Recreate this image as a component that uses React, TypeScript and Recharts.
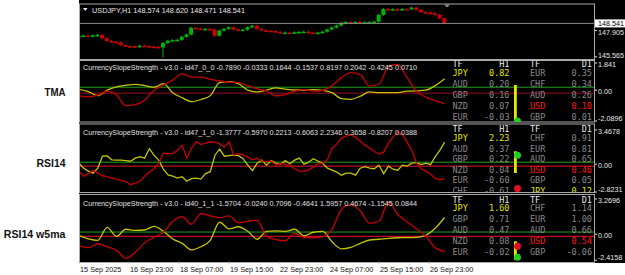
import React from 'react';
import { ComposedChart, LineChart, Line, Bar, XAxis, YAxis, ReferenceLine } from 'recharts';

const SANS = '"Liberation Sans", Arial, sans-serif';
const MONO = '"DejaVu Sans Mono", monospace';

// x is the H1 bar index, about 1.56 px per bar
const BAR_DOMAIN: [number, number] = [0, 329.6];

// USDJPY closes, one candle per 3 H1 bars
const priceCloses = [
  147.42, 147.45, 147.40, 147.48, 147.51, 147.22, 146.98, 146.90, 146.85, 146.60,
  146.52, 146.50, 146.46, 146.55, 146.52, 146.47, 146.45, 146.40, 146.80, 147.00,
  147.05, 147.08, 147.35, 147.55, 148.15, 148.08, 148.02, 148.05, 147.98, 147.45,
  147.90, 148.05, 148.20, 148.00, 147.95, 147.98, 148.20, 148.34, 148.05, 147.92,
  147.88, 147.85, 147.78, 147.70, 147.72, 147.68, 147.75, 147.78, 147.80, 147.72,
  147.66, 147.72, 147.80, 148.00, 148.18, 148.35, 148.60, 148.66, 148.62, 148.66,
  148.60, 148.64, 148.66, 148.70, 149.30, 149.82, 149.78, 149.80, 149.76, 149.82,
  149.80, 149.95, 149.75, 149.55, 149.50, 149.45, 149.30, 149.00, 148.54,
];
const priceFirstOpen = 147.38;
const priceWickLows: Record<number, number> = { 18: 145.58 };
const bidPrice = 148.541;
const priceTicks = [145.565, 147.905, 148.541];
const priceDomain: [number, number] = [145.37, 150.27];

// TMA pane, every 6 bars
const tmaJpy = [
  0.05, -0.10, -0.37, 0.00, 0.22, 0.33, 0.39, 0.31, 0.20, 0.44,
  -0.17, -0.51, -0.78, -0.64, -0.37, 0.51, 0.58, 0.44, 0.00, -0.12,
  0.00, 0.15, 0.07, 0.01, 0.00, 0.03, -0.01, -0.17, -0.58, -0.62,
  -0.41, -0.12, -0.17, -0.17, -0.17, -0.07, -0.05, 0.00, 0.31, 0.78,
];
const tmaUsd = [
  -0.39, -0.45, -0.34, -0.07, -0.31, -1.05, -0.98, -0.68, 0.00, 0.34,
  0.68, 1.12, 0.89, 0.88, 0.73, 0.62, 0.54, 0.51, 0.31, 0.10,
  -0.05, -0.39, -0.31, -0.07, 0.03, -0.07, -0.01, 0.31, 0.85, 1.19,
  1.05, 0.27, 0.40, 1.59, 1.75, 0.85, -0.07, -0.47, -0.71, -0.92,
];

// RSI14 pane, every 3 bars
const rsiJpy = [
  0.10, -0.41, -0.71, -0.91, -0.41, 0.81, 0.84, 0.44, 0.41, 0.41,
  0.36, 0.30, 0.61, 0.76, 0.61, 1.57, 0.91, 0.41, -0.51, -1.09,
  -1.22, -1.42, -1.27, -1.73, -1.47, -1.42, -1.52, -0.96, -0.76, 0.91,
  1.52, 0.81, 0.86, 0.91, 0.86, 0.56, -0.10, -0.66, 0.10, 0.41,
  -0.10, 0.36, 0.10, 0.00, 0.36, 0.05, 0.41, 0.61, 0.00, 0.20,
  0.56, 0.30, 0.10, -0.41, -0.61, -0.81, -1.12, -0.91, -0.91, -1.12,
  -0.41, -0.25, -0.41, -0.46, -0.10, -0.96, -0.20, -0.51, -0.61, -0.10,
  -0.20, 0.10, 0.15, -0.05, 0.10, -0.05, 0.78, 1.42, 2.23,
];
const rsiUsd = [
  -0.74, -1.22, -0.96, -0.61, -0.91, -1.17, -1.27, -1.42, -1.52, -1.65,
  -1.76, -2.08, -1.93, -1.73, -1.22, -0.81, -0.46, 0.05, 1.12, 1.07,
  1.07, 1.42, 1.93, 0.61, 1.62, 2.28, 1.98, 2.13, 2.26, 2.23,
  2.08, 1.73, 2.28, 0.91, 1.07, 0.96, 0.71, 0.44, 0.61, 0.30,
  0.25, 0.30, -0.05, 0.07, 0.00, -0.10, -0.46, -0.71, -0.71, -0.58,
  -0.30, 0.05, 0.10, 0.46, 1.62, 2.03, 2.64, 2.84, 2.97, 2.74,
  2.33, 1.93, 1.62, 1.29, 1.02, 1.22, 2.13, 2.74, 3.25, 3.05,
  2.23, 1.42, 0.10, -0.46, -0.71, -1.02, -1.42, -1.59, -1.47,
];

// RSI14 w5ma pane, every 6 bars
const w5Jpy = [
  -0.13, -0.43, -0.57, 0.64, -0.20, 0.46, 0.36, 0.39, 0.73, 0.27,
  -0.45, -0.85, -1.45, -1.17, -0.57, 1.11, 0.50, 0.69, 0.27, -0.47,
  0.27, 0.30, 0.27, 0.46, -0.15, 0.18, 0.27, -0.71, -1.36, -1.22,
  -0.85, -0.54, -0.47, -0.38, -0.33, -0.32, -0.29, -0.10, 0.55, 1.55,
];
const w5Usd = [
  -1.06, -1.25, -0.89, -1.17, -1.50, -2.24, -1.68, -0.80, -0.29, 0.18,
  1.20, 1.62, 0.92, 1.90, 1.71, 1.53, 1.71, 1.06, 1.20, 1.29,
  -0.20, -0.50, -0.61, 0.08, -0.29, -0.33, -0.24, 0.46, 2.32, 2.72,
  2.18, 1.01, 1.20, 2.99, 1.85, 1.13, 0.50, -0.20, -1.26, -1.62,
];

const timeTickBars = [0, 32, 64, 96, 128, 160, 192, 224];
const timeLabels = ['15 Sep 2025', '16 Sep 23:00', '18 Sep 07:00', '19 Sep 15:00', '22 Sep 23:00', '24 Sep 07:00', '25 Sep 15:00', '26 Sep 23:00'];

const paneTitles = [
  'CurrencySlopeStrength - v3.0 - id47_0_0 -0.7890 -0.0333 0.1644 -0.1537 0.8197 0.2042 -0.4245 0.0710',
  'CurrencySlopeStrength - v3.0 - id47_1_0 -1.3777 -0.5970 0.2213 -0.6063 2.2346 0.3658 -0.8207 0.0388',
  'CurrencySlopeStrength - v3.0 - id40_1_1 -1.5704 -0.0240 0.7096 -0.4641 1.5957 0.4674 -1.1545 0.0844',
];
const paneNames = ['TMA', 'RSI14', 'RSI14 w5ma'];

const tmaH1 = [['JPY', '0.82'], ['AUD', '0.20'], ['GBP', '0.16'], ['NZD', '0.07'], ['EUR', '-0.03']];
const tmaD1 = [['EUR', '0.35'], ['CHF', '0.34'], ['AUD', '0.26'], ['USD', '0.10'], ['GBP', '0.01']];
const rsiH1 = [['JPY', '2.23'], ['AUD', '0.37'], ['GBP', '0.22'], ['NZD', '0.04'], ['EUR', '-0.60'], ['CHF', '-0.61']];
const rsiD1 = [['CHF', '0.91'], ['EUR', '0.81'], ['AUD', '0.65'], ['USD', '0.46'], ['GBP', '0.05'], ['JPY', '0.12']];
const w5H1 = [['JPY', '1.60'], ['GBP', '0.71'], ['AUD', '0.47'], ['NZD', '0.08'], ['EUR', '-0.02']];
const w5D1 = [['CHF', '1.14'], ['EUR', '1.00'], ['AUD', '0.66'], ['USD', '0.54'], ['GBP', '-0.06']];

const YELLOW = '#c4c400';
const RED = '#c80000';

const curColor = (c: string) => (c === 'JPY' ? '#e6e600' : c === 'USD' ? '#ff1010' : '#8a8a8a');

const Candle = (p: any) => {
  const { x, y, width, height, payload } = p;
  if (x == null || !payload) return null;
  const [lo, hi] = payload.range;
  const top = Math.min(y, y + height);
  const h = Math.abs(height);
  const span = hi - lo;
  const yOf = (v: number) => (span > 0 ? top + ((hi - v) / span) * h : top);
  const col = payload.c >= payload.o ? '#00b400' : '#d20000';
  const bt = yOf(Math.max(payload.o, payload.c));
  const bb = yOf(Math.min(payload.o, payload.c));
  const cx = x + width / 2;
  return (
    <g>
      <line x1={cx} x2={cx} y1={top - 1} y2={top + h + 1} stroke={col} strokeWidth={1} />
      <rect x={x} y={bt} width={width} height={Math.max(1.5, bb - bt)} fill={col} />
    </g>
  );
};

const PriceTick = (p: any) => {
  const v = p.payload.value;
  if (v === bidPrice) {
    return (
      <g>
        <rect x={p.x - 3} y={p.y - 4} width={30} height={8} fill="#fff" />
        <text x={p.x} y={p.y + 2.6} fill="#000" fontSize={7.2} fontFamily={SANS}>{v.toFixed(3)}</text>
      </g>
    );
  }
  const dy = v === priceTicks[0] ? -1 : 2;
  return <text x={p.x} y={p.y + dy + 2.6} fill="#e8e8e8" fontSize={7.2} fontFamily={SANS}>{v.toFixed(3)}</text>;
};

const LevelTick = (p: any) => {
  const v = p.payload.value;
  const dy = v === p.min ? -3 : v === p.max ? 1.2 : 0.8;
  return (
    <text x={p.x} y={p.y + dy + 2.6} fill="#e8e8e8" fontSize={7.2} fontFamily={SANS}>
      {v === 0 ? '0.00' : String(v)}
    </text>
  );
};

const TimeTick = (p: any) => {
  const i = timeTickBars.indexOf(p.payload.value);
  return <text x={p.x + 1} y={p.y + 6.8} fill="#111" fontSize={7.3} fontFamily={SANS}>{timeLabels[i]}</text>;
};

function PriceChart() {
  const candles = priceCloses.map((c, i) => {
    const o = i === 0 ? priceFirstOpen : priceCloses[i - 1];
    const lo = Math.min(o, c, priceWickLows[i] ?? c);
    const hi = Math.max(o, c);
    return { bar: i * 3, o, c, range: [lo, hi] };
  });
  return (
    <div style={{ position: 'absolute', left: 79, top: 4 }}>
      <ComposedChart width={546} height={61} data={candles} margin={{ top: 0, right: 0, bottom: 6, left: 0 }}>
        <XAxis type="number" dataKey="bar" domain={BAR_DOMAIN} hide />
        <YAxis orientation="right" width={31} domain={priceDomain} ticks={priceTicks} interval={0}
          axisLine={false} tickSize={3} tickMargin={1} tickLine={{ stroke: '#ddd' }}
          tick={(p: any) => <PriceTick {...p} />} allowDataOverflow />
        <ReferenceLine y={bidPrice} stroke="#8c8c8c" />
        <Bar dataKey="range" barSize={4} shape={(p: any) => <Candle {...p} />} isAnimationActive={false} />
      </ComposedChart>
    </div>
  );
}

function IndicatorPane(props: any) {
  const { jpy, usd, step, min, max, top, h, curve, lowColor, showTime } = props;
  const data = jpy.map((v: number, i: number) => ({ bar: i * step, jpy: v, usd: usd[i] }));
  const padTop = 6;
  const padBottom = showTime ? 15 : 6;
  return (
    <div style={{ position: 'absolute', left: 79, top: top - padTop }}>
      <LineChart width={546} height={h + padTop + padBottom} data={data}
        margin={{ top: padTop, right: 0, bottom: showTime ? 0 : padBottom, left: 0 }}>
        <XAxis type="number" dataKey="bar" domain={BAR_DOMAIN} hide={!showTime} ticks={timeTickBars} interval={0}
          height={15} axisLine={false} tickLine={{ stroke: '#222' }} tickSize={3} tick={(p: any) => <TimeTick {...p} />} />
        <YAxis orientation="right" width={31} domain={[min, max]} ticks={[min, 0, max]} interval={0}
          axisLine={false} tickSize={3} tickMargin={1} tickLine={{ stroke: '#ddd' }}
          tick={(p: any) => <LevelTick {...p} min={min} max={max} />} allowDataOverflow />
        <ReferenceLine y={0.2} stroke="#1ea01e" />
        <ReferenceLine y={-0.2} stroke={lowColor} />
        <Line dataKey="jpy" type={curve} stroke={YELLOW} strokeWidth={1.3} dot={false} isAnimationActive={false} />
        <Line dataKey="usd" type={curve} stroke={RED} strokeWidth={1.3} dot={false} isAnimationActive={false} />
      </LineChart>
    </div>
  );
}

function StrengthTable(props: any) {
  const { h1, d1, headerY, firstY, step } = props;
  const t = (x: number, y: number, s: string, fill: string, anchor = 'start') => (
    <text x={x} y={y + 3} fill={fill} fontSize={8.5} fontFamily={MONO} textAnchor={anchor}>{s}</text>
  );
  return (
    <g>
      {t(452.5, headerY, 'TF', '#e8e8e8')}
      {t(509.5, headerY, 'H1', '#e8e8e8', 'end')}
      {t(530, headerY, 'TF', '#e8e8e8')}
      {t(592, headerY, 'D1', '#e8e8e8', 'end')}
      {h1.map((r: string[], i: number) => (
        <g key={'h' + i}>
          {t(452.5, firstY + i * step, r[0], curColor(r[0]))}
          {t(509.5, firstY + i * step, r[1], curColor(r[0]), 'end')}
        </g>
      ))}
      {d1.map((r: string[], i: number) => (
        <g key={'d' + i}>
          {t(530, firstY + i * step, r[0], curColor(r[0]))}
          {t(592, firstY + i * step, r[1], curColor(r[0]), 'end')}
        </g>
      ))}
    </g>
  );
}

const paneFrames = [[4, 59.5], [60.5, 122], [124, 192.5], [194.5, 262.5]];

function Overlay() {
  return (
    <svg width={625} height={275} style={{ position: 'absolute', left: 0, top: 0, pointerEvents: 'none' }}>
      <defs>
        {paneFrames.map((f, i) => (
          <clipPath id={'pane' + i} key={i}>
            <rect x={79.5} y={f[0]} width={515} height={f[1] - f[0]} />
          </clipPath>
        ))}
      </defs>
      {paneFrames.map((f, i) => (
        <rect key={i} x={79.5} y={f[0]} width={515} height={f[1] - f[0]} fill="none" stroke="#a8a8a8" strokeWidth={1} />
      ))}
      <polygon points="83,8 87.5,8 85.25,11" fill="#e8e8e8" />
      <text x={92} y={12.6} fill="#e8e8e8" fontSize={7.5} fontFamily={SANS} textLength={153} lengthAdjust="spacingAndGlyphs">
        USDJPY,H1  148.574 148.620 148.471 148.541
      </text>
      <polygon points="444,4.5 450,4.5 447,7.5" fill="#8c8c8c" />
      {[67, 132, 203].map((y, i) => (
        <text key={i} x={83} y={y + 2.6} fill="#e0e0e0" fontSize={7.2} fontFamily={SANS} textLength={334} lengthAdjust="spacingAndGlyphs">
          {paneTitles[i]}
        </text>
      ))}
      {[[92.3, 21], [163, 29], [234, 61.7]].map((l, i) => (
        <text key={i} x={65.5} y={l[0] + 3.5} fill="#111" fontSize={10.5} fontWeight="bold" fontFamily={SANS}
          textAnchor="end" textLength={l[1]} lengthAdjust="spacingAndGlyphs">{paneNames[i]}</text>
      ))}
      <g clipPath="url(#pane1)">
        <StrengthTable h1={tmaH1} d1={tmaD1} headerY={63.7} firstY={73.2} step={11} />
        <rect x={514} y={85} width={2.8} height={35} fill="#e6e600" />
        <circle cx={517.5} cy={121} r={3.4} fill="#22cc22" />
      </g>
      <g clipPath="url(#pane2)">
        <StrengthTable h1={rsiH1} d1={rsiD1} headerY={128.7} firstY={138.2} step={10.5} />
        <rect x={514} y={151.3} width={2.8} height={21.7} fill="#e6e600" />
        <circle cx={517.5} cy={155.3} r={3.5} fill="#22cc22" />
        <circle cx={517.5} cy={188.5} r={3.5} fill="#e01020" />
      </g>
      <g clipPath="url(#pane3)">
        <StrengthTable h1={w5H1} d1={w5D1} headerY={199.7} firstY={208.3} step={10.8} />
        <rect x={514} y={241.3} width={2.8} height={18.4} fill="#e6e600" />
        <circle cx={517.5} cy={246.3} r={3.5} fill="#e01020" />
        <circle cx={517.5} cy={257.3} r={3.5} fill="#22cc22" />
      </g>
    </svg>
  );
}

export default function App() {
  return (
    <div style={{ position: 'absolute', left: 0, top: 0, width: 625, height: 275, background: '#fff', overflow: 'hidden' }}>
      <div style={{ position: 'absolute', left: 79, top: 0, width: 546, height: 263, background: '#000' }} />
      <PriceChart />
      <IndicatorPane jpy={tmaJpy} usd={tmaUsd} step={6} min={-2.0896} max={1.841} top={63.3} h={58} curve="monotone" lowColor="#9c0a1e" />
      <IndicatorPane jpy={rsiJpy} usd={rsiUsd} step={3} min={-2.8231} max={3.4678} top={129.8} h={62} curve="linear" lowColor="#ee1030" />
      <IndicatorPane jpy={w5Jpy} usd={w5Usd} step={6} min={-2.4158} max={3.2696} top={198.7} h={61.2} curve="monotone" lowColor="#ee1030" showTime />
      <Overlay />
    </div>
  );
}
